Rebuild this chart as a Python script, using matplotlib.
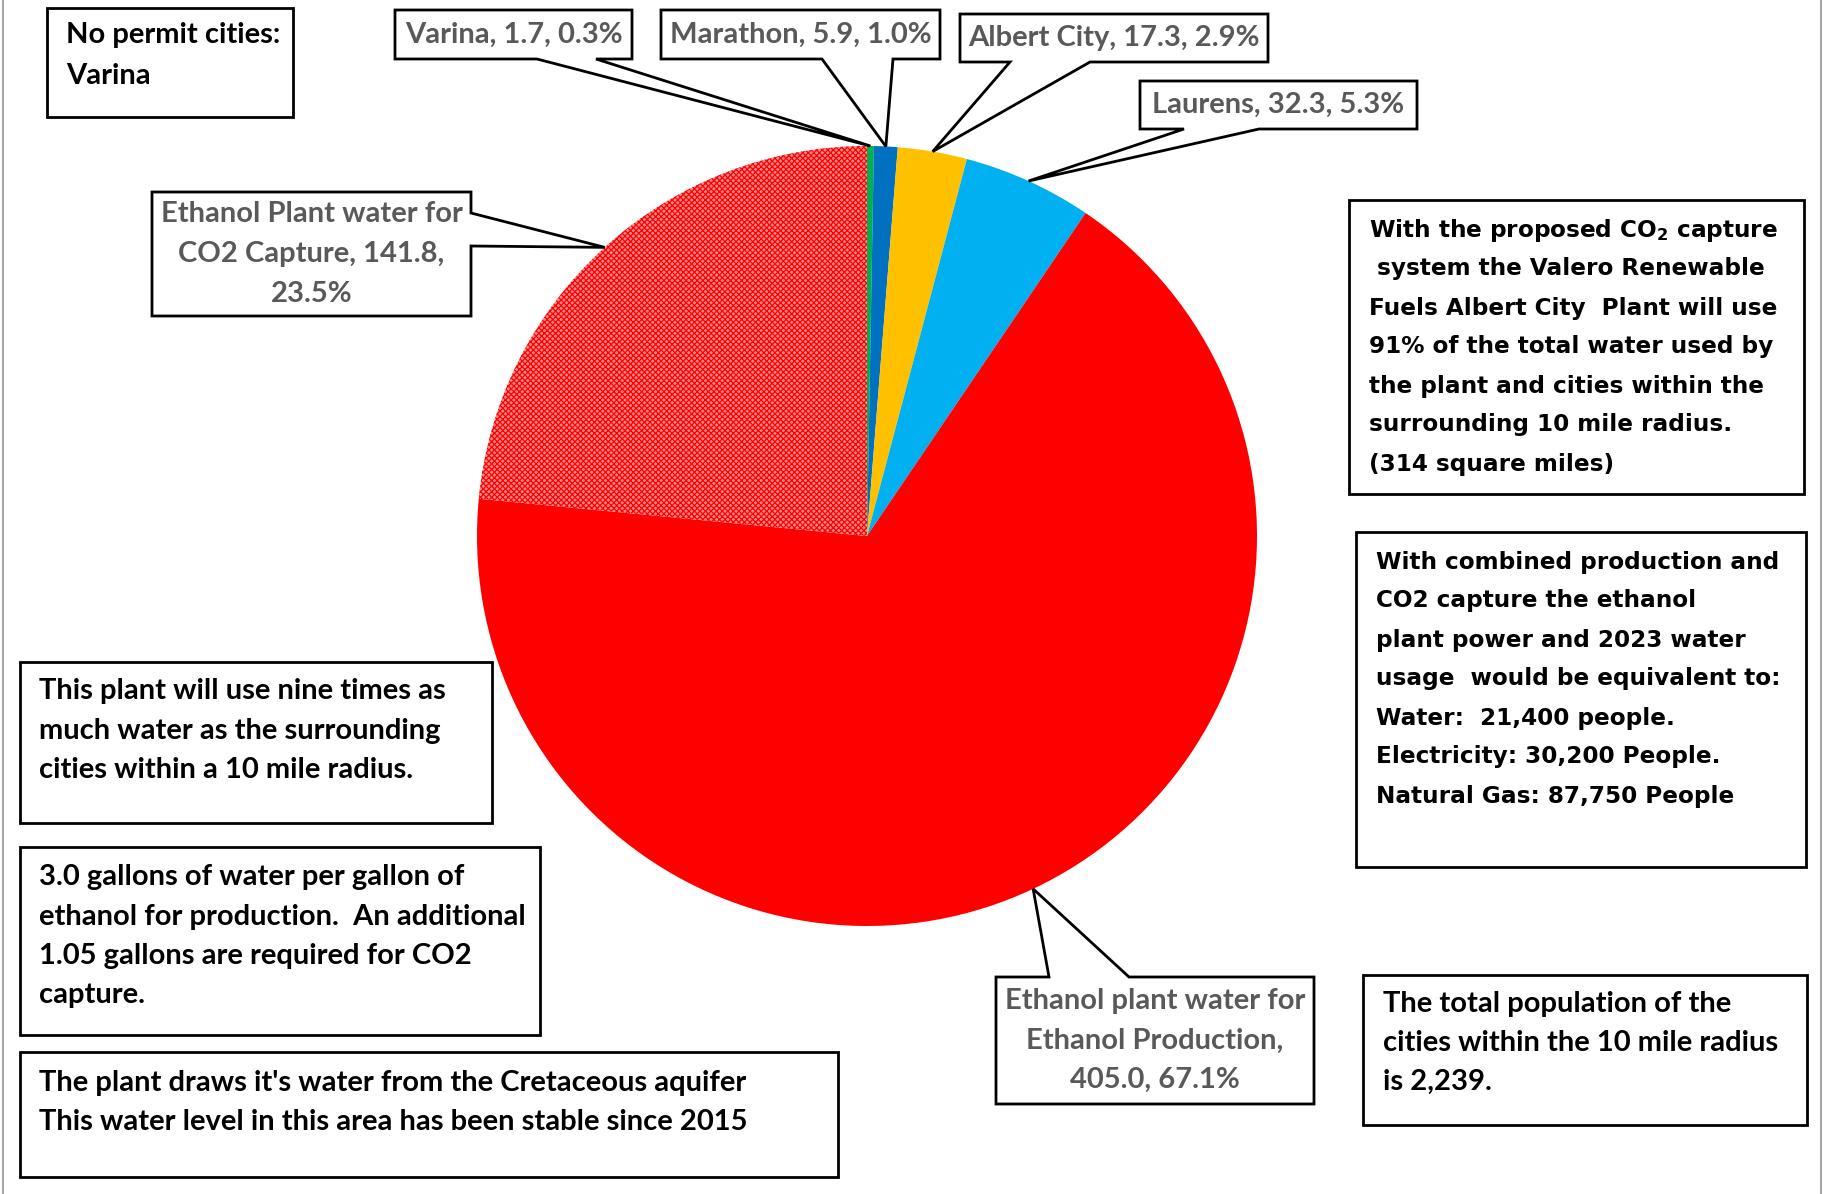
import matplotlib
matplotlib.use("Agg")
import matplotlib.pyplot as plt
from matplotlib.patches import Polygon, Rectangle
from matplotlib.lines import Line2D
import numpy as np

# ---------------- data ----------------
names = ["Varina", "Marathon", "Albert City", "Laurens",
         "Ethanol plant water for\nEthanol Production",
         "Ethanol Plant water for\nCO2 Capture"]
values = [1.7, 5.9, 17.3, 32.3, 405.0, 141.8]
sep_value = [", ", ", ", ", ", ", ", ",\n", ", "]
sep_pct = [", ", ", ", ", ", ", ", ", ", ",\n"]
colors = ["#00B050", "#0070C0", "#FFC000", "#00B0F0", "#FF0000", "#FF8A8A"]

note_permit = ["No permit cities:", "Varina"]
note_nine = ["This plant will use nine times as",
             "much water as the surrounding",
             "cities within a 10 mile radius."]
note_gallons = ["3.0 gallons of water per gallon of",
                "ethanol for production.  An additional",
                "1.05 gallons are required for CO2",
                "capture."]
note_aquifer = ["The plant draws it's water from the Cretaceous aquifer",
                "This water level in this area has been stable since 2015"]
note_population = ["The total population of the",
                   "cities within the 10 mile radius",
                   "is 2,239."]
note_valero = [r"With the proposed CO$_\mathbf{2}$ capture",
               " system the Valero Renewable",
               "Fuels Albert City  Plant will use",
               "91% of the total water used by",
               "the plant and cities within the",
               "surrounding 10 mile radius.",
               "(314 square miles)"]
note_combined = ["With combined production and",
                 "CO2 capture the ethanol",
                 "plant power and 2023 water",
                 "usage  would be equivalent to:",
                 "Water:  21,400 people.",
                 "Electricity: 30,200 People.",
                 "Natural Gas: 87,750 People"]

# ---------------- figure ----------------
W, H = 1824, 1194
fig = plt.figure(figsize=(W / 100, H / 100), dpi=100)
fig.patch.set_facecolor("white")

cx, cy, R = 867, 536, 390
pax = fig.add_axes([(cx - R) / W, (H - cy - R) / H, 2 * R / W, 2 * R / H])
plt.rcParams["hatch.linewidth"] = 0.9
wedges, _ = pax.pie(values, colors=colors, startangle=90, counterclock=False,
                    wedgeprops=dict(linewidth=0))
pax.set_xlim(-1, 1)
pax.set_ylim(-1, 1)
pax.set_aspect("equal")
wedges[5].set_hatch("xxxxxx")
wedges[5].set_edgecolor("#FF0000")
wedges[5].set_linewidth(0)

# overlay in pixel coordinates (top-left origin)
ov = fig.add_axes([0, 0, 1, 1], zorder=5)
ov.set_xlim(0, W)
ov.set_ylim(H, 0)
ov.axis("off")
ov.patch.set_alpha(0)

total = sum(values)
labels = [f"{n}{s1}{v:.1f}{s2}{100 * v / total:.1f}%"
          for n, v, s1, s2 in zip(names, values, sep_value, sep_pct)]


def tip(i):
    w = wedges[i]
    a = np.deg2rad((w.theta1 + w.theta2) / 2)
    d = pax.transData.transform((np.cos(a), np.sin(a)))
    return (d[0], H - d[1])


LEFT_FONT = ["Lato", "DejaVu Sans"]
LEFT_SIZE = 21
RIGHT_SIZE = 16.7
GREY = "#595959"
LW = 2.0


def callout(box, side, b1, b2, t):
    x0, y0, x1, y1 = box
    if side == "bottom":
        pts = [(x0, y0), (x1, y0), (x1, y1), (b2, y1), t, (b1, y1), (x0, y1)]
    elif side == "right":
        pts = [(x0, y0), (x1, y0), (x1, b1), t, (x1, b2), (x1, y1), (x0, y1)]
    else:  # top
        pts = [(x0, y0), (b1, y0), t, (b2, y0), (x1, y0), (x1, y1), (x0, y1)]
    ov.add_patch(Polygon(pts, closed=True, facecolor="white",
                         edgecolor="black", linewidth=LW, joinstyle="miter"))


callout_specs = [
    (0, (395, 10, 632, 59), "bottom", 537, 596),
    (1, (661, 10, 940, 59), "bottom", 822, 893),
    (2, (960, 14, 1268, 62), "bottom", 1010, 1090),
    (3, (1140, 81, 1417, 129), "bottom", 1184, 1259),
    (4, (996, 977, 1314, 1104), "top", 1049, 1129),
    (5, (152, 192, 471, 316), "right", 213, 246),
]
for i, box, side, b1, b2 in callout_specs:
    callout(box, side, b1, b2, tip(i))
    lines = labels[i].split("\n")
    x0, y0, x1, y1 = box
    mid = (y0 + y1) / 2
    step = 39.5
    start = mid - step * (len(lines) - 1) / 2
    for k, ln in enumerate(lines):
        ov.text((x0 + x1) / 2, start + k * step, ln, ha="center", va="center",
                fontsize=LEFT_SIZE, fontweight="bold", color=GREY,
                family=LEFT_FONT, zorder=6)


def note(box, lines, x, y_first, step, font, size):
    x0, y0, x1, y1 = box
    ov.add_patch(Rectangle((x0, y0), x1 - x0, y1 - y0, facecolor="white",
                           edgecolor="black", linewidth=LW))
    for k, ln in enumerate(lines):
        ov.text(x, y_first + k * step, ln, ha="left", va="center",
                fontsize=size, fontweight="bold", color="black", family=font,
                zorder=6)


note((47, 8, 293, 117), note_permit, 66, 35, 41, LEFT_FONT, LEFT_SIZE)
note((20, 662, 492, 823), note_nine, 39, 691, 39.5, LEFT_FONT, LEFT_SIZE)
note((20, 847, 540, 1035), note_gallons, 39, 877, 39.5, LEFT_FONT, LEFT_SIZE)
note((20, 1052, 838, 1177), note_aquifer, 39, 1083, 39.5, LEFT_FONT, LEFT_SIZE)
note((1363, 975, 1807, 1125), note_population, 1383, 1004, 39, LEFT_FONT, LEFT_SIZE)
note((1349, 200, 1804, 494), note_valero, 1369, 230, 39, ["DejaVu Sans"], RIGHT_SIZE)
note((1356, 532, 1806, 867), note_combined, 1376, 562, 39, ["DejaVu Sans"], RIGHT_SIZE)

# thin outer chart frame (left/right)
for xx in (3, 1821):
    ov.add_line(Line2D([xx, xx], [0, H], color="#A6A6A6", linewidth=1.5))

fig.savefig("out.png", dpi=100, facecolor="white")
